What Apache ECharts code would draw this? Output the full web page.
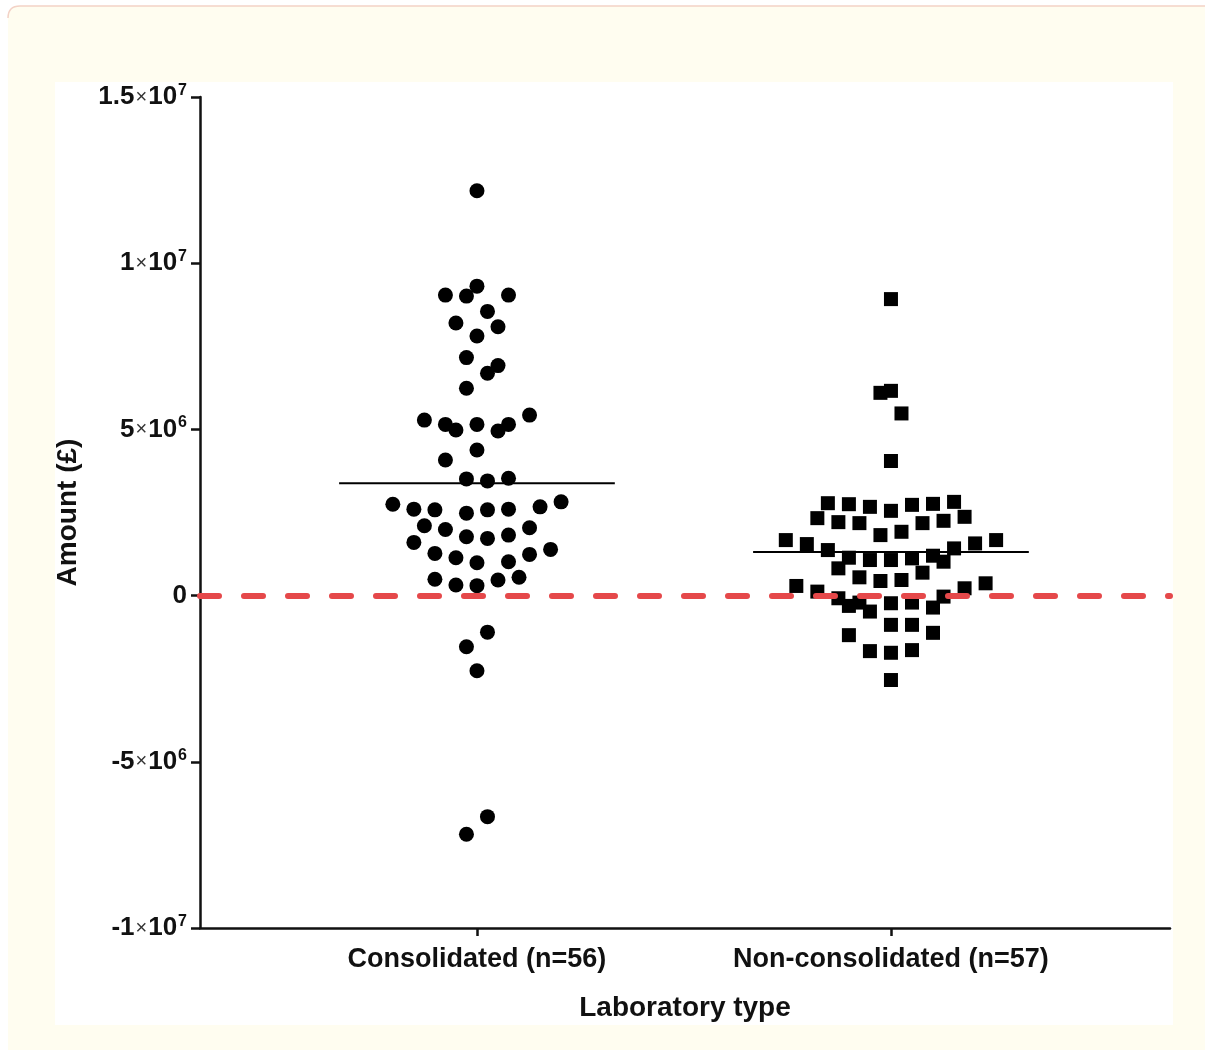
<!DOCTYPE html>
<html>
<head>
<meta charset="utf-8">
<script src="https://cdn.jsdelivr.net/npm/echarts@6/dist/echarts.min.js"></script>
<style>
html,body{margin:0;padding:0;background:#ffffff;}
#chart{width:1205px;height:1050px;}
</style>
</head>
<body>
<div id="chart"></div>
<script>
// ---- data ----
var categories = ['Consolidated (n=56)', 'Non-consolidated (n=57)'];
var yTicks = [-1e7, -5e6, 0, 5e6, 1e7, 1.5e7];

// Consolidated: amount (£) and horizontal swarm column of each point
var consolidatedValues = [12180000, 9040000, 9010000, 9310000, 9040000, 8550000, 8200000, 8090000, 7810000, 7160000,
  6920000, 6690000, 6240000, 5280000, 5150000, 4980000, 5150000, 4950000, 5150000, 5430000,
  4080000, 4380000, 3510000, 3450000, 3530000, 2750000, 2600000, 2580000, 2480000, 2580000,
  2600000, 2670000, 2820000, 2100000, 1990000, 1770000, 1720000, 1820000, 2040000, 1600000,
  1270000, 1140000, 990000, 1020000, 1240000, 1390000, 490000, 320000, 300000, 470000,
  550000, -1100000, -1540000, -2260000, -6650000, -7180000];
var consolidatedColumns = [0, -3, -1, 0, 3, 1, -2, 2, 0, -1,
  2, 1, -1, -5, -3, -2, 0, 2, 3, 5,
  -3, 0, -1, 1, 3, -8, -6, -4, -1, 1,
  3, 6, 8, -5, -3, -1, 1, 3, 5, -6,
  -4, -2, 0, 3, 5, 7, -4, -2, 0, 2,
  4, 1, -1, 0, 1, -1];

// Non-consolidated
var nonConsolidatedValues = [8920000, 6100000, 6160000, 5480000, 4050000, 2780000, 2750000, 2670000, 2550000, 2730000,
  2760000, 2820000, 2330000, 2210000, 2180000, 1820000, 1920000, 2180000, 2250000, 2370000,
  1670000, 1550000, 1370000, 1140000, 1070000, 1070000, 1120000, 1200000, 1420000, 1570000,
  1670000, 820000, 1020000, 550000, 440000, 470000, 690000, 290000, 120000, -80000,
  -310000, -210000, -480000, -230000, -210000, -360000, -30000, 220000, 370000, -880000,
  -880000, -1120000, -1190000, -1670000, -1720000, -1640000, -2540000];
var nonConsolidatedColumns = [0, -1, 0, 1, 0, -6, -4, -2, 0, 2,
  4, 6, -7, -5, -3, -1, 1, 3, 5, 7,
  -10, -8, -6, -4, -2, 0, 2, 4, 6, 8,
  10, -5, 5, -3, -1, 1, 3, -9, -7, -5,
  -4, -3, -2, 0, 2, 4, 5, 7, 9, 0,
  2, 4, -4, -2, 0, 2, 0];

// group means (horizontal lines)
var meanValues = [3380000, 1310000];

// ---- presentation constants ----
var COL_STEP = 0.0254;      // width of one swarm column in x-axis units
var MEAN_HALF = 0.333;      // half length of the mean line
var X_MIN = -0.669, X_MAX = 1.674;

function swarm(group, values, cols) {
  return values.map(function (v, i) { return [group + cols[i] * COL_STEP, v]; });
}

function tickLabel(v) {
  if (v === 0) return '{n|0}';
  var neg = v < 0 ? '-' : '';
  var a = Math.abs(v);
  var e = Math.floor(Math.log10(a) + 1e-9);
  var m = +(a / Math.pow(10, e)).toFixed(2);
  return '{n|' + neg + m + '}{x|×}{n|10}{e|' + e + '}';
}

var chart = echarts.init(document.getElementById('chart'), null, {renderer: 'canvas'});
var FONT = '"Liberation Sans", Arial, Helvetica, sans-serif';
var INK = '#111111';

var option = {
  backgroundColor: '#ffffff',
  animation: false,
  graphic: {
    elements: [
      {type: 'rect', z: -10, silent: true,
        shape: {x: 8, y: 6, width: 1197, height: 1044, r: [12, 0, 0, 0]},
        style: {fill: '#fffdf0', stroke: null}},
      {type: 'line', z: -9, silent: true,
        shape: {x1: 20, y1: 6, x2: 1205, y2: 6},
        style: {stroke: '#f3d2c6', lineWidth: 1.5}},
      {type: 'bezierCurve', z: -9, silent: true,
        shape: {x1: 8, y1: 18, cpx1: 8, cpy1: 6, x2: 20, y2: 6},
        style: {stroke: '#f3d2c6', lineWidth: 1.5, fill: null}},
      {type: 'rect', z: -8, silent: true,
        shape: {x: 55, y: 82, width: 1118, height: 943},
        style: {fill: '#ffffff'}}
    ]
  },
  grid: {left: 200, right: 35, top: 97, bottom: 122, containLabel: false},
  xAxis: {
    type: 'value', min: X_MIN, max: X_MAX,
    name: 'Laboratory type', nameLocation: 'middle', nameGap: 66,
    nameTextStyle: {fontFamily: FONT, fontWeight: 'bold', fontSize: 28, color: INK},
    splitLine: {show: false},
    axisLine: {show: true, onZero: false, lineStyle: {color: INK, width: 2.5}},
    axisTick: {show: true, inside: false, length: 8, lineStyle: {color: INK, width: 2.5}, customValues: [0, 1]},
    axisLabel: {
      customValues: [0, 1], margin: 18,
      fontFamily: FONT, fontWeight: 'bold', fontSize: 27, color: INK,
      formatter: function (v) { return categories[Math.round(v)]; }
    }
  },
  yAxis: {
    type: 'value', min: yTicks[0], max: yTicks[yTicks.length - 1], interval: 5e6,
    name: 'Amount (£)', nameLocation: 'middle', nameGap: 118, nameRotate: 90,
    nameTextStyle: {fontFamily: FONT, fontWeight: 'bold', fontSize: 28, color: INK},
    splitLine: {show: false},
    axisLine: {show: true, onZero: false, lineStyle: {color: INK, width: 2.5}},
    axisTick: {show: true, inside: false, length: 9, lineStyle: {color: INK, width: 2.5}},
    axisLabel: {
      margin: 13, color: INK,
      formatter: tickLabel,
      rich: {
        n: {fontFamily: FONT, fontWeight: 'bold', fontSize: 26, color: INK},
        x: {fontFamily: FONT, fontWeight: 'normal', fontSize: 20, color: '#333', padding: [0, 1, 0, 1]},
        e: {fontFamily: FONT, fontWeight: 'bold', fontSize: 16, color: INK, padding: [0, 0, 13, 1]}
      }
    }
  },
  series: [
    {
      name: 'zero', type: 'line', z: 1, silent: true, symbol: 'none',
      data: [],
      markLine: {
        silent: true, symbol: 'none', label: {show: false},
        lineStyle: {color: '#e5484a', width: 6, type: [19, 25], cap: 'round', opacity: 1},
        data: [{yAxis: 0}]
      }
    },
    {
      name: categories[0], type: 'scatter', z: 3, symbol: 'circle', symbolSize: 15,
      itemStyle: {color: '#000', opacity: 1},
      data: swarm(0, consolidatedValues, consolidatedColumns)
    },
    {
      name: categories[1], type: 'scatter', z: 3, symbol: 'rect', symbolSize: 14,
      itemStyle: {color: '#000', opacity: 1},
      data: swarm(1, nonConsolidatedValues, nonConsolidatedColumns)
    },
    {
      name: 'mean0', type: 'line', z: 4, symbol: 'none', silent: true,
      lineStyle: {color: '#000', width: 2},
      data: [[0 - MEAN_HALF, meanValues[0]], [0 + MEAN_HALF, meanValues[0]]]
    },
    {
      name: 'mean1', type: 'line', z: 4, symbol: 'none', silent: true,
      lineStyle: {color: '#000', width: 2},
      data: [[1 - MEAN_HALF, meanValues[1]], [1 + MEAN_HALF, meanValues[1]]]
    }
  ]
};
chart.setOption(option);
</script>
</body>
</html>
